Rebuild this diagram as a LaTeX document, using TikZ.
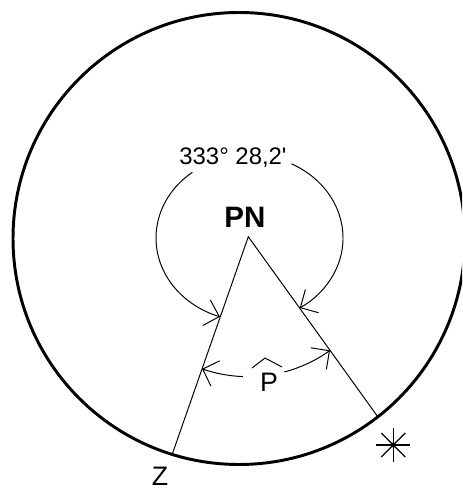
\documentclass[tikz,border=0pt]{standalone}
\usepackage{fontspec}
\setmainfont{Liberation Sans}
\usetikzlibrary{arrows.meta,calc}
\tikzset{sphere/.style={line width=2.1pt},
  side/.style={line width=0.7pt},
  angarr/.style={-{Straight Barb[length=9.5pt,width=19pt]},line width=0.7pt},
  lbl/.style={inner sep=0pt}}

\begin{document}
\begin{tikzpicture}[x=0.025cm,y=0.025cm]
\useasboundingbox (0,0) rectangle (462,492);
\clip (0,0) rectangle (462,492);
\coordinate (O) at (239,253.5);
\coordinate (apex) at (248.3,255.3);
\coordinate (ec) at (249.5,254);
\coordinate (Z) at ($(O)+(252.8:226)$);
\coordinate (S) at ($(O)+(-52.1:226)$);
\draw[sphere] (O) circle[radius=226];
\draw[side] (Z) -- (apex) -- (S);
% labels
\node[lbl,font=\bfseries\fontsize{21}{21}\selectfont] (pn) at (245,274.5) {PN};
\node[lbl,font=\fontsize{17}{17}\selectfont] (ang) at (233,334.5) {333° 28,2\textquotesingle};
\node[lbl,font=\fontsize{19}{19}\selectfont] (P) at (269,109.5) {P};
\node[lbl,anchor=north,font=\fontsize{19}{19}\selectfont] (z) at (160,25) {Z};
\draw[side] ($(P.north)+(-17,5)$) -- ++(13,10) -- ++(17,-9);
% 333 degree arc
\draw[angarr] ($(ec)+(127.6:93.5 and 83)$) arc[start angle=127.6,end angle=251.6,x radius=93.5,y radius=83];
\draw[angarr] ($(ec)+(63.3:93.5 and 83)$) arc[start angle=63.3,end angle=-57.5,x radius=93.5,y radius=83];
% hour angle P
\draw[angarr] ($(apex)+(267.8:140)$) arc[start angle=267.8,end angle=250.7,radius=140];
\draw[angarr] ($(apex)+(284.9:140)$) arc[start angle=284.9,end angle=305.7,radius=140];
% star
\foreach \a in {0,45,90,135}
  \draw[line width=0.9pt] ($(393.3,47)+(\a:17)$) -- ($(393.3,47)+(\a+180:17)$);
\fill (393.3,47) circle[radius=2.5];
\end{tikzpicture}
\end{document}
